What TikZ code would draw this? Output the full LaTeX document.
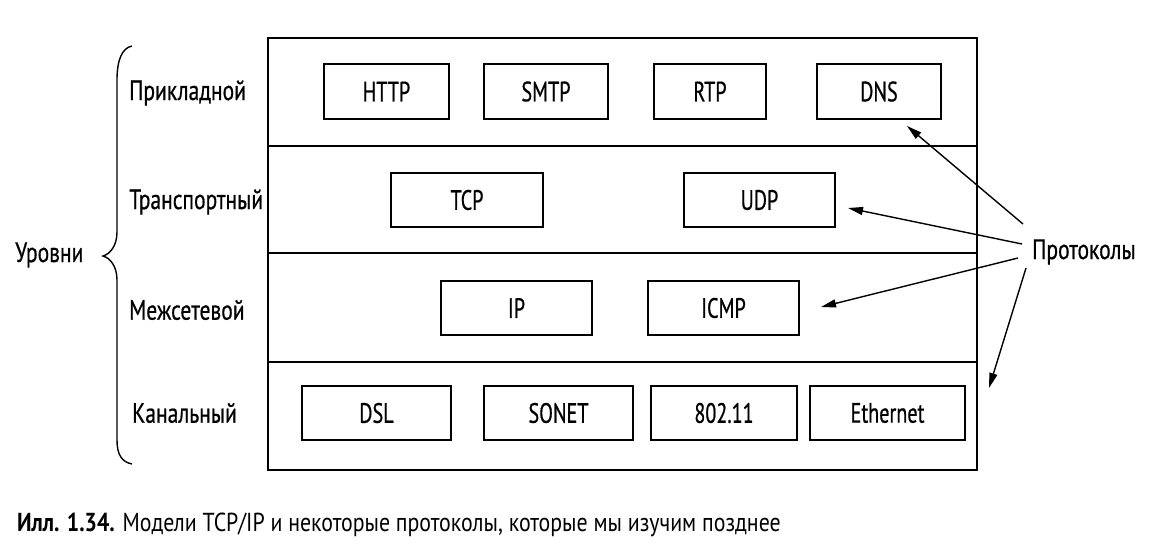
\documentclass[tikz,border=0pt]{standalone}
\usepackage{fontspec}
\setmainfont[FakeStretch=0.84]{PT Sans}
\newfontfamily\boxfont[FakeStretch=0.72, FakeBold=0.6]{PT Sans}
\newfontfamily\lblfont[FakeStretch=0.77, FakeBold=0.6]{PT Sans}
\usetikzlibrary{arrows.meta}
\begin{document}
\begin{tikzpicture}[x=1pt,y=-1pt,
  pbox/.style={draw, line width=1.4pt, minimum height=55pt, inner sep=0pt, font=\boxfont\fontsize{28}{30}\selectfont},
  lbl/.style={anchor=west, inner sep=0pt, font=\lblfont\fontsize{28}{30}\selectfont},
  arr/.style={line width=1.4pt, -{Triangle[length=15pt,width=8pt]}},
  frame/.style={line width=2pt},
  brace/.style={line width=1.4pt}]
\useasboundingbox (0,0) rectangle (1156,558);
% frame and layer lines
\draw[frame] (268,38) rectangle (977,470);
\draw[frame] (268,146) -- (977,146);
\draw[frame] (268,253) -- (977,253);
\draw[frame] (268,362) -- (977,362);
% application layer
\node[pbox, minimum width=125pt] (http) at (386.5,91.5) {HTTP};
\node[pbox, minimum width=124pt] (smtp) at (546,91.5) {SMTP};
\node[pbox, minimum width=112pt] (rtp) at (710,91.5) {RTP};
\node[pbox, minimum width=124pt] (dns) at (879,91.5) {DNS};
% transport
\node[pbox, minimum width=152pt, minimum height=54pt] (tcp) at (467,200) {TCP};
\node[pbox, minimum width=151pt, minimum height=54pt] (udp) at (759.5,200) {UDP};
% internet
\node[pbox, minimum width=151pt, minimum height=54pt] (ip) at (516.5,308) {IP};
\node[pbox, minimum width=151pt, minimum height=54pt] (icmp) at (723.5,308) {ICMP};
% link
\node[pbox, minimum width=149pt, minimum height=54pt] (dsl) at (376.5,413) {DSL};
\node[pbox, minimum width=149pt, minimum height=54pt] (sonet) at (558.5,413) {SONET};
\node[pbox, minimum width=146pt, minimum height=54pt] (wifi) at (724,413) {802.11};
\node[pbox, minimum width=155pt, minimum height=54pt] (eth) at (887.5,413) {Ethernet};
% layer labels
\node[lbl] (l1) at (129,93) {Прикладной};
\node[lbl] (l2) at (129,202) {Транспортный};
\node[lbl] (l3) at (129,310) {Межсетевой};
\node[lbl] (l4) at (132,413) {Канальный};
\node[lbl] (lev) at (15,255) {Уровни};
% brace
\draw[brace] (132,46) .. controls (122,48) and (117,60) .. (117,80) -- (117,232)
  .. controls (117,246) and (110,254) .. (103,256)
  .. controls (110,258) and (117,266) .. (117,280) -- (117,440)
  .. controls (117,455) and (122,462) .. (132,464);
% protocols
\node[lbl] (proto) at (1032,252) {Протоколы};
\coordinate (s1) at (1023,224);
\coordinate (s2) at (1022,244);
\coordinate (s3) at (1018,258);
\coordinate (s4) at (1026,268);
\coordinate (e1) at (907,126);
\coordinate (e2) at (848,208);
\coordinate (e3) at (821,307);
\coordinate (e4) at (989,388);
\draw[arr] (s1) -- (e1);
\draw[arr] (s2) -- (e2);
\draw[arr] (s3) -- (e3);
\draw[arr] (s4) -- (e4);
% caption
\node[anchor=base west, inner sep=0pt, font=\fontsize{26}{28}\selectfont] (cap) at (17,531)
  {\textbf{Илл. 1.34.} Модели TCP/IP и некоторые протоколы, которые мы изучим позднее};
\end{tikzpicture}
\end{document}
